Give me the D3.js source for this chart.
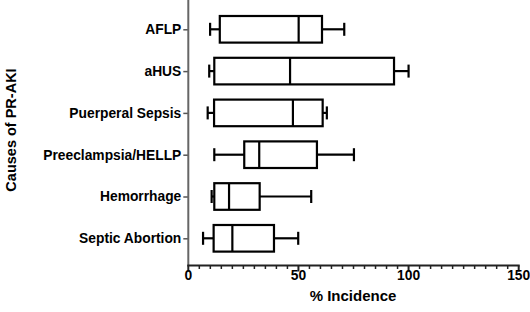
<!DOCTYPE html>
<html><head><meta charset="utf-8">
<script src="https://cdn.jsdelivr.net/npm/d3@7"></script>
<style>
html,body{margin:0;padding:0;background:#fff;}
text{font-family:"Liberation Sans",Arial,sans-serif;font-weight:bold;fill:#000;}
</style></head>
<body><svg id="c" width="530" height="312"></svg>
<script>
const categories = ["AFLP","aHUS","Puerperal Sepsis","Preeclampsia/HELLP","Hemorrhage","Septic Abortion"];
const minVals    = [9.9, 9.5, 8.8, 11.8, 10.6, 6.7];
const q1Vals     = [14.3, 11.8, 11.7, 25.4, 11.8, 11.5];
const medianVals = [50.1, 46.2, 47.5, 32.2, 18.5, 20.0];
const q3Vals     = [60.7, 93.4, 61.0, 58.4, 32.4, 38.9];
const maxVals    = [70.8, 100.0, 62.9, 75.2, 55.8, 49.9];
const xTicks = [0, 50, 100, 150];
const xLabel = "% Incidence";
const yLabel = "Causes of PR-AKI";

const data = categories.map((c,i)=>({cat:c,min:minVals[i],q1:q1Vals[i],med:medianVals[i],q3:q3Vals[i],max:maxVals[i]}));

const svg = d3.select("#c");
const axisX0 = 188.3, axisX1 = 518.7, axisY = 265.5;
const x = d3.scaleLinear().domain([0,150]).range([axisX0, axisX1]);
const y = d3.scalePoint().domain(categories).range([29.3, 238.3]);
const boxH = 26.6, capH = 13;

// y axis
const yAxis = svg.append("g").attr("transform",`translate(${axisX0},0)`)
  .call(d3.axisLeft(y).tickSize(5).tickPadding(2));
yAxis.select(".domain").remove();
yAxis.selectAll(".tick line").attr("stroke","#555").attr("stroke-width",1.5);
yAxis.selectAll(".tick text").style("font-size","13.8px").attr("fill","#000");
svg.append("line").attr("x1",axisX0).attr("x2",axisX0).attr("y1",0).attr("y2",axisY+0.5)
  .attr("stroke","#666").attr("stroke-width",2);

// x axis
const xg = svg.append("g").attr("transform",`translate(0,${axisY})`);
xg.append("line").attr("x1",axisX0-1).attr("x2",axisX1+1).attr("stroke","#222").attr("stroke-width",2);
const minor = d3.range(0,151,5);
xg.selectAll("line.minor").data(minor).join("line").attr("class","minor")
  .attr("x1",d=>x(d)).attr("x2",d=>x(d)).attr("y1",0)
  .attr("y2",d=>xTicks.includes(d)?6:3.5)
  .attr("stroke","#222").attr("stroke-width",d=>xTicks.includes(d)?2:1.5);
xg.selectAll("text.tl").data(xTicks).join("text").attr("class","tl")
  .attr("x",d=>x(d)).attr("y",14).attr("text-anchor","middle")
  .style("font-size","13.8px").text(d=>d);

svg.append("text").attr("x",353).attr("y",300.5).attr("text-anchor","middle")
  .style("font-size","15px").text(xLabel);
svg.append("text").attr("transform","translate(15.5,130) rotate(-90)").attr("text-anchor","middle")
  .style("font-size","14.5px").text(yLabel);

// boxes
const g = svg.append("g").attr("fill","none").attr("stroke","#000").attr("stroke-width",2.2);
data.forEach(d=>{
  const cy = y(d.cat);
  g.append("line").attr("x1",x(d.min)).attr("x2",x(d.q1)).attr("y1",cy).attr("y2",cy);
  g.append("line").attr("x1",x(d.q3)).attr("x2",x(d.max)).attr("y1",cy).attr("y2",cy);
  g.append("line").attr("x1",x(d.min)).attr("x2",x(d.min)).attr("y1",cy-capH/2).attr("y2",cy+capH/2);
  g.append("line").attr("x1",x(d.max)).attr("x2",x(d.max)).attr("y1",cy-capH/2).attr("y2",cy+capH/2);
  g.append("rect").attr("x",x(d.q1)).attr("y",cy-boxH/2).attr("width",x(d.q3)-x(d.q1)).attr("height",boxH).attr("fill","#fff");
  g.append("line").attr("x1",x(d.med)).attr("x2",x(d.med)).attr("y1",cy-boxH/2).attr("y2",cy+boxH/2);
});
</script></body></html>
